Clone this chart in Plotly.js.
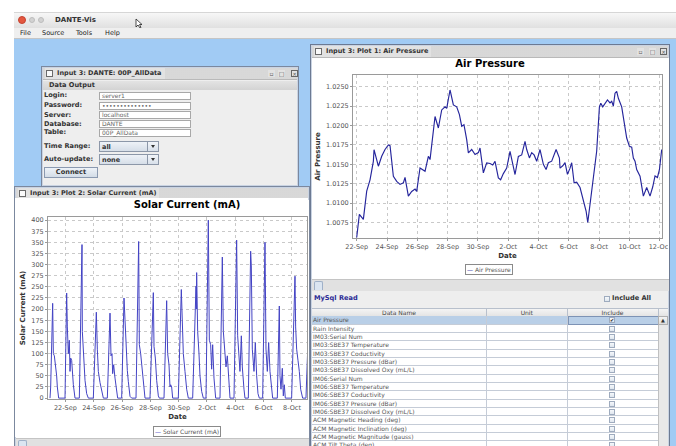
<!DOCTYPE html>
<html><head><meta charset="utf-8">
<script src="https://cdn.plot.ly/plotly-3.0.1.min.js"></script>
<style>
*{box-sizing:border-box}
body{margin:0;width:676px;height:446px;overflow:hidden;background:#fff;font-family:'DejaVu Sans',sans-serif;position:relative;color:#333}
.a{position:absolute}
.frame{position:absolute;background:#eeeeee;border:1px solid #7b889e;box-shadow:inset 0 0 0 1px #c9d3e2;overflow:hidden}
.tb{position:absolute;left:1px;right:1px;top:1px;height:12px;border-bottom:1px solid #b9b9b9;
 background-color:#e2e2e2;background-image:radial-gradient(#b5b5b5 0.55px,transparent 0.75px);background-size:2px 2px}
.tb .t{position:absolute;left:2px;top:0;height:11px;padding:0 3px 0 12px;background:#e2e2e2;font-weight:bold;font-size:6.5px;line-height:11px;color:#333;white-space:nowrap}
.tb .sq{position:absolute;left:3px;top:2px;width:7px;height:7px;border:1px solid #6a6a6a;background:#fafafa}
.ic{position:absolute;top:2px;width:7px;height:7px;background:#e2e2e2;font-size:6px;line-height:7px;text-align:center;color:#555}
.lbl{position:absolute;left:2px;font-weight:bold;font-size:6.6px;color:#333;white-space:nowrap}
.fld{position:absolute;left:57px;width:92px;height:8px;background:#fff;border:1px solid #a8a8a8;font-size:6px;line-height:6.5px;padding-left:2px;color:#666}
.cmb{position:absolute;left:57px;width:60px;height:11px;border:1px solid #8c97a8;background:linear-gradient(#eef2f7,#d6dee8);font-size:6.5px;font-weight:bold;line-height:10px;padding-left:2px;color:#333}
.cmb .ar{position:absolute;right:0;top:0;width:11px;height:9px;border-left:1px solid #8c97a8;background:linear-gradient(#f2f5f9,#d8e0ea)}
.cmb .ar:after{content:'';position:absolute;left:3px;top:3px;border-left:2.5px solid transparent;border-right:2.5px solid transparent;border-top:3px solid #333}
.strip{position:absolute;background:#e1e1e1;border-top:1px solid #c4c4c4}
.tab{position:absolute;width:9px;height:9px;border:1px solid #9fb0c8;border-bottom:none;border-radius:2px 2px 0 0;background:#dbe5f1}
.row{position:absolute;left:312px;width:346px;height:8.33px;font-size:6px;line-height:7.6px;color:#555;white-space:nowrap}
.row div{position:absolute;top:0;height:8.33px;border-right:1px solid #c5ccd7;border-bottom:1px solid #c5ccd7}
.cb{position:absolute;width:6px;height:6px;border:1px solid #9eabbe;background:linear-gradient(#f5f8fb,#dfe6ee);font-size:5px;line-height:5px;text-align:center;color:#222}
</style></head><body>
<div id="root"></div>
<div id="solarPlot" class="a"></div>
<div id="airPlot" class="a"></div>
<script>
// ---------------- data ----------------
// Air Pressure: days after 22-Sep, value
const pressureDay = [0,0.176,0.44,0.66,0.88,1.10,1.144,1.43,1.65,1.87,2.09,2.2,2.42,2.64,2.86,3.08,3.19,3.41,3.63,3.85,3.96,4.18,4.51,4.73,4.84,5.17,5.39,5.61,5.83,5.94,6.16,6.38,6.60,6.78,6.93,7.08,7.26,7.37,7.59,7.81,8.03,8.14,8.36,8.58,8.80,8.98,9.13,9.35,9.50,9.68,9.90,10.12,10.45,10.67,10.89,11.11,11.22,11.40,11.55,11.71,11.88,12.10,12.32,12.50,12.65,12.87,13.16,13.38,13.42,13.60,13.75,13.91,14.08,14.19,14.35,14.52,14.74,14.96,15.14,15.25,15.36,15.45,15.62,15.80,15.84,16.02,16.11,16.24,16.39,16.55,16.72,16.83,16.94,17.05,17.16,17.27,17.49,17.60,17.82,18.00,18.15,18.26,18.37,18.48,18.70,18.92,19.14,19.36,19.54,19.69,19.85,19.98,20.13];
const pressureVal = [1.00556,1.00855,1.0079,1.01154,1.0130,1.01538,1.01688,1.01475,1.01603,1.0169,1.0175,1.0174,1.01346,1.0128,1.0124,1.0126,1.0133,1.0109,1.0115,1.0118,1.0115,1.01453,1.0141,1.01603,1.0156,1.02115,1.01967,1.0220,1.0224,1.0222,1.02457,1.02265,1.0224,1.0214,1.0199,1.0201,1.01817,1.01646,1.0169,1.01625,1.0165,1.0171,1.0139,1.01518,1.0151,1.0149,1.01538,1.01325,1.0130,1.0138,1.0145,1.01667,1.01368,1.0160,1.0162,1.01795,1.0169,1.01582,1.0165,1.0162,1.01538,1.0169,1.0150,1.01432,1.0152,1.0154,1.0169,1.0158,1.0145,1.0148,1.0152,1.0137,1.0145,1.0152,1.01262,1.0127,1.0120,1.01048,1.00898,1.0075,1.0092,1.01069,1.0130,1.0154,1.0167,1.0224,1.02287,1.0224,1.0229,1.0233,1.0229,1.0231,1.0225,1.02415,1.0244,1.0235,1.0224,1.02115,1.01838,1.0173,1.0172,1.0158,1.0154,1.01432,1.01346,1.0109,1.0120,1.0109,1.0121,1.0135,1.0133,1.0143,1.0169];

// Solar Current (mA): days after 22-Sep, value
const solarDay = [
-1.082,-1.035,-0.894,-0.847,-0.776,-0.682,-0.612,-0.565,-0.471,
-0.024,0.094,0.141,0.212,0.282,0.329,0.376,0.447,0.565,0.682,
0.988,1.176,1.200,1.271,1.341,1.388,1.506,1.624,
1.976,2.188,2.259,2.329,2.447,2.565,2.682,
2.965,3.153,3.224,3.294,3.341,3.412,3.506,3.624,3.694,
3.976,4.141,4.212,4.282,4.376,4.447,4.565,4.682,
4.988,5.176,5.224,5.318,5.412,5.506,5.624,
5.976,6.212,6.259,6.353,6.447,6.565,6.635,
6.965,7.153,7.224,7.318,7.388,7.435,7.506,7.576,
7.976,8.188,8.259,8.329,8.447,8.565,8.682,
8.988,9.224,9.247,9.271,9.341,9.435,9.506,9.624,9.741,
9.929,10.094,10.165,10.259,10.329,10.400,10.494,10.612,
10.918,11.082,11.153,11.247,11.341,11.435,11.529,11.624,
11.906,12.094,12.165,12.259,12.329,12.424,12.494,12.612,12.682,
12.918,13.082,13.129,13.200,13.318,13.412,13.506,13.600,13.694,
13.929,14.094,14.165,14.259,14.353,14.447,14.541,14.635,
14.965,15.106,15.153,15.224,15.318,15.388,15.459,15.529,
15.976,16.212,16.259,16.329,16.424,16.518,16.612,16.753,
16.988,17.153];
const solarMA = [
0,25,213,100,95,75,50,25,0,
0,236,160,100,130,60,90,85,30,0,
0,345,150,110,70,40,10,0,
0,193,110,60,35,15,0,
0,191,95,100,55,75,45,20,0,
0,225,176,113,62,37,4,0,
0,352,120,100,70,30,0,
0,237,116,90,40,5,0,
0,219,100,75,25,30,25,0,
0,244,150,100,60,20,0,
0,252,200,282,150,100,50,15,0,
0,400,130,120,65,120,45,0,
0,317,150,98,70,95,40,0,
0,355,140,90,60,140,70,20,0,
0,330,297,110,60,125,50,10,0,
0,350,110,60,125,60,30,0,
0,207,50,20,67,5,30,0,
0,274,160,110,85,60,20,0,
0,150];

const dataNames = ["Air Pressure","Rain Intensity","IM03:Serial Num","IM03:SBE37 Temperature","IM03:SBE37 Coductivity","IM03:SBE37 Pressure (dBar)","IM03:SBE37 Dissolved Oxy (mL/L)","IM06:Serial Num","IM06:SBE37 Temperature","IM06:SBE37 Coductivity","IM06:SBE37 Pressure (dBar)","IM06:SBE37 Dissolved Oxy (mL/L)","ACM Magnetic Heading (deg)","ACM Magnetic Inclination (deg)","ACM Magnetic Magnitude (gauss)","ACM Tilt Theta (deg)"];
const formLabels = ["Login:","Password:","Server:","Database:","Table:"];
const formValues = ["server1","••••••••••••••","localhost","DANTE","00P_AllData"];

// ---------------- helpers ----------------
function dayToStr(d){
  const t = new Date(Date.UTC(2016,8,22) + Math.round(d*86400000));
  return t.toISOString().slice(0,19).replace('T',' ');
}
function el(html){ document.getElementById('root').insertAdjacentHTML('beforeend', html); }

// ---------------- window chrome ----------------
el('<div class="a" style="left:14px;top:12px;width:662px;height:16px;background:linear-gradient(#f7f7f7,#e0e0e0);border-top:1px solid #d6d6d6"></div>');
el('<div class="a" style="left:18px;top:16px;width:8px;height:8px;border-radius:50%;background:#e4573f;border:1px solid #c44330"></div>');
el('<div class="a" style="left:29px;top:17px;width:6px;height:6px;border-radius:50%;background:#d2d2d2;border:1px solid #bdbdbd"></div>');
el('<div class="a" style="left:38px;top:17px;width:6px;height:6px;border-radius:50%;background:#d2d2d2;border:1px solid #bdbdbd"></div>');
el('<div class="a" style="left:55px;top:15.5px;font-weight:bold;font-size:7px;color:#333">DANTE-Vis</div>');
el('<svg class="a" style="left:135px;top:18px" width="8" height="11"><path d="M1 1 L1 9 L3 7 L5 10 L6 9.5 L4.5 6.5 L7 6.5 Z" fill="#fff" stroke="#222" stroke-width="0.8"/></svg>');
el('<div class="a" style="left:14px;top:28px;width:662px;height:11px;background:#efefef;border-bottom:1px solid #c5c5c5"></div>');
[["File",20],["Source",42],["Tools",76],["Help",105]].forEach(m=>el('<div class="a" style="left:'+m[1]+'px;top:28.5px;font-size:6.5px;color:#222">'+m[0]+'</div>'));
el('<div class="a" style="left:14px;top:39px;width:662px;height:407px;background:#a1cbf4"></div>');

// ---------------- form frame ----------------
let f = '<div class="frame" style="left:41px;top:66px;width:258px;height:121px">';
f += '<div class="tb"><div class="t">Input 3: DANTE: 00P_AllData</div><div class="sq"></div>';
f += '<div class="ic" style="left:225px">&#x25AB;</div><div class="ic" style="left:235px">&#x25A1;</div><div class="ic" style="left:248px;border:1px solid #666;font-size:5px">&#x2715;</div></div>';
f += '<div class="a" style="left:1px;right:1px;top:14px;height:9px;background:linear-gradient(#e3e3e3,#d3d3d3);font-weight:bold;font-size:6.6px;line-height:9px;padding-left:6px;color:#333">Data Output</div>';
const fieldTop = [24.7,34.7,44,53,61.7];
formLabels.forEach((l,i)=>{
  f += '<div class="lbl" style="top:'+(fieldTop[i]-0.5)+'px">'+l+'</div>';
  f += '<div class="fld" style="top:'+fieldTop[i]+'px">'+formValues[i]+'</div>';
});
f += '<div class="lbl" style="top:74.5px">Time Range:</div><div class="cmb" style="top:74px">all<div class="ar"></div></div>';
f += '<div class="lbl" style="top:87.5px">Auto-update:</div><div class="cmb" style="top:86.7px">none<div class="ar"></div></div>';
f += '<div class="a" style="left:2px;top:100px;width:54px;height:11px;border:1px solid #8a99b0;background:linear-gradient(#eef3f8,#d3dce7);font-weight:bold;font-size:6.6px;line-height:9.5px;text-align:center;color:#333">Connect</div>';
f += '</div>';
el(f);

// ---------------- solar frame ----------------
let s = '<div class="frame" style="left:14px;top:186px;width:296px;height:264px">';
s += '<div class="tb"><div class="t">Input 3: Plot 2: Solar Current (mA)</div><div class="sq"></div></div>';
s += '<div class="a" style="left:1px;top:13px;width:293px;height:239px;background:#fff"></div>';
s += '<div class="strip" style="left:1px;top:251px;width:294px;height:12px"></div>';
s += '<div class="tab" style="left:3px;top:253px"></div>';
s += '</div>';
el(s);

// ---------------- air pressure frame ----------------
let a = '<div class="frame" style="left:310px;top:44px;width:360px;height:406px;border-color:#6c7a93">';
a += '<div class="tb"><div class="t">Input 3: Plot 1: Air Pressure</div><div class="sq"></div>';
a += '<div class="ic" style="left:325px">&#x25AB;</div><div class="ic" style="left:337px">&#x25A1;</div><div class="ic" style="left:348px;border:1px solid #666;font-size:5px">&#x2715;</div></div>';
a += '<div class="a" style="left:1px;top:13px;width:357px;height:221px;background:#fff"></div>';
a += '<div class="strip" style="left:1px;top:234px;width:357px;height:12px"></div>';
a += '<div class="tab" style="left:3px;top:236px"></div>';
a += '<div class="a" style="left:3px;top:249px;font-weight:bold;font-size:6.6px;color:#2b2b95">MySql Read</div>';
a += '<div class="cb" style="left:293px;top:251px"></div><div class="a" style="left:301px;top:249px;font-weight:bold;font-size:6.6px;color:#333">Include All</div>';
a += '</div>';
el(a);

// table header
el('<div class="a" style="left:312px;top:308px;width:356px;height:8.3px;background:linear-gradient(#f4f4f4,#e4e4e4);border-top:1px solid #b8c0cc;font-size:6px;line-height:7px;color:#444">'
 + '<div class="a" style="left:0;width:175px;height:8px;text-align:center;border-right:1px solid #b8c0cc">Data Name</div>'
 + '<div class="a" style="left:175px;width:80.5px;height:8px;text-align:center;border-right:1px solid #b8c0cc">Unit</div>'
 + '<div class="a" style="left:255.5px;width:91px;height:8px;text-align:center;border-right:1px solid #b8c0cc">Include</div></div>');
dataNames.forEach((n,i)=>{
  const top = 316.3 + i*8.33;
  const sel = i===0;
  const bg = sel ? '#b9cfe7' : '#fff';
  el('<div class="row" style="top:'+top+'px;background:'+bg+'">'
    + '<div style="left:0;width:175px;padding-left:1px">'+n+'</div>'
    + '<div style="left:175px;width:80.5px"></div>'
    + '<div style="left:255.5px;width:91px;'+(sel?'outline:1px solid #7d93b5;outline-offset:-1px':'')+'"></div>'
    + '</div>');
  el('<div class="cb" style="left:609px;top:'+(top+1)+'px">'+(sel?'&#x2714;':'')+'</div>');
});
el('<div class="a" style="left:658px;top:316px;width:10px;height:130px;background:#e8e8e8;border-left:1px solid #c0c0c0"></div>');
el('<div class="a" style="left:658px;top:316.3px;width:10px;height:8.5px;background:linear-gradient(#f3f3f3,#dcdcdc);border:1px solid #b0b0b0;font-size:5px;line-height:6.5px;text-align:center;color:#333">&#x25B2;</div>');

// ---------------- plots ----------------
const FONT = 'DejaVu Sans, sans-serif';
function axisCommon(){
  return {showline:true, mirror:true, linecolor:'#9a9a9a', linewidth:1,
    showgrid:true, gridcolor:'#c9c9c9', griddash:'dot', gridwidth:1,
    ticks:'outside', ticklen:2, tickcolor:'#9a9a9a', zeroline:false,
    ticklabeloverflow:'allow',
    tickfont:{family:FONT, size:6.5, color:'#555'}};
}
function legendBox(label, color, x, y){
  return {xref:'paper', yref:'paper', x:x, y:y, xanchor:'center', yanchor:'middle', showarrow:false,
    text:'<span style="color:'+color+'">—</span> '+label,
    font:{family:FONT, size:6, color:'#555'}, bgcolor:'#fff',
    bordercolor:'#8a8a8a', borderwidth:1, borderpad:1};
}

// Air Pressure
const airColor = '#25259c';
const airDiv = document.getElementById('airPlot');
airDiv.style.cssText = 'left:312px;top:58px;width:356px;height:220px';
Plotly.newPlot(airDiv, [{
  x: pressureDay.map(dayToStr), y: pressureVal, type:'scatter', mode:'lines',
  name:'Air Pressure', line:{color:airColor, width:1.15}
}], {
  width:356, height:220, margin:{l:41, r:6, t:17, b:40},
  paper_bgcolor:'#fff', plot_bgcolor:'#fff',
  font:{family:FONT},
  title:{text:'Air Pressure', x:0.5, xanchor:'center', y:0.973, yanchor:'middle', yref:'container',
    font:{family:FONT, size:10, weight:'bold', color:'#000'}},
  xaxis:Object.assign(axisCommon(), {type:'date', range:[dayToStr(-0.244), dayToStr(20.15)],
    tick0:'2016-09-22', dtick:2*86400000, tickformat:'%-d-%b',
    title:{text:'Date', standoff:3, font:{family:FONT, size:7, weight:'bold', color:'#333'}}}),
  yaxis:Object.assign(axisCommon(), {range:[1.0055, 1.0265], tick0:1.0075, dtick:0.0025, tickformat:'.4f',
    title:{text:'Air Pressure', standoff:4, font:{family:FONT, size:7, weight:'bold', color:'#333'}}}),
  showlegend:false,
  annotations:[legendBox('Air Pressure', airColor, 0.44, -0.196)]
}, {staticPlot:true, displayModeBar:false});

// Solar Current
const solColor = '#4343c4';
const solDiv = document.getElementById('solarPlot');
solDiv.style.cssText = 'left:15px;top:198px;width:293px;height:239px';
Plotly.newPlot(solDiv, [{
  x: solarDay.map(dayToStr), y: solarMA, type:'scatter', mode:'lines',
  name:'Solar Current (mA)', line:{color:solColor, width:1}
}], {
  width:293, height:239, margin:{l:33, r:1, t:19, b:38},
  paper_bgcolor:'#fff', plot_bgcolor:'#fff',
  font:{family:FONT},
  title:{text:'Solar Current (mA)', x:0.587, xanchor:'center', y:0.971, yanchor:'middle', yref:'container',
    font:{family:FONT, size:10, weight:'bold', color:'#000'}},
  xaxis:Object.assign(axisCommon(), {type:'date', range:[dayToStr(-1.224), dayToStr(17.06)],
    tick0:'2016-09-22', dtick:2*86400000, tickformat:'%-d-%b',
    title:{text:'Date', standoff:3, font:{family:FONT, size:7, weight:'bold', color:'#333'}}}),
  yaxis:Object.assign(axisCommon(), {range:[-2, 407], tick0:0, dtick:25,
    title:{text:'Solar Current (mA)', standoff:4, font:{family:FONT, size:7, weight:'bold', color:'#333'}}}),
  showlegend:false,
  annotations:[legendBox('Solar Current (mA)', solColor, 0.535, -0.176)]
}, {staticPlot:true, displayModeBar:false});
</script>
</body></html>
